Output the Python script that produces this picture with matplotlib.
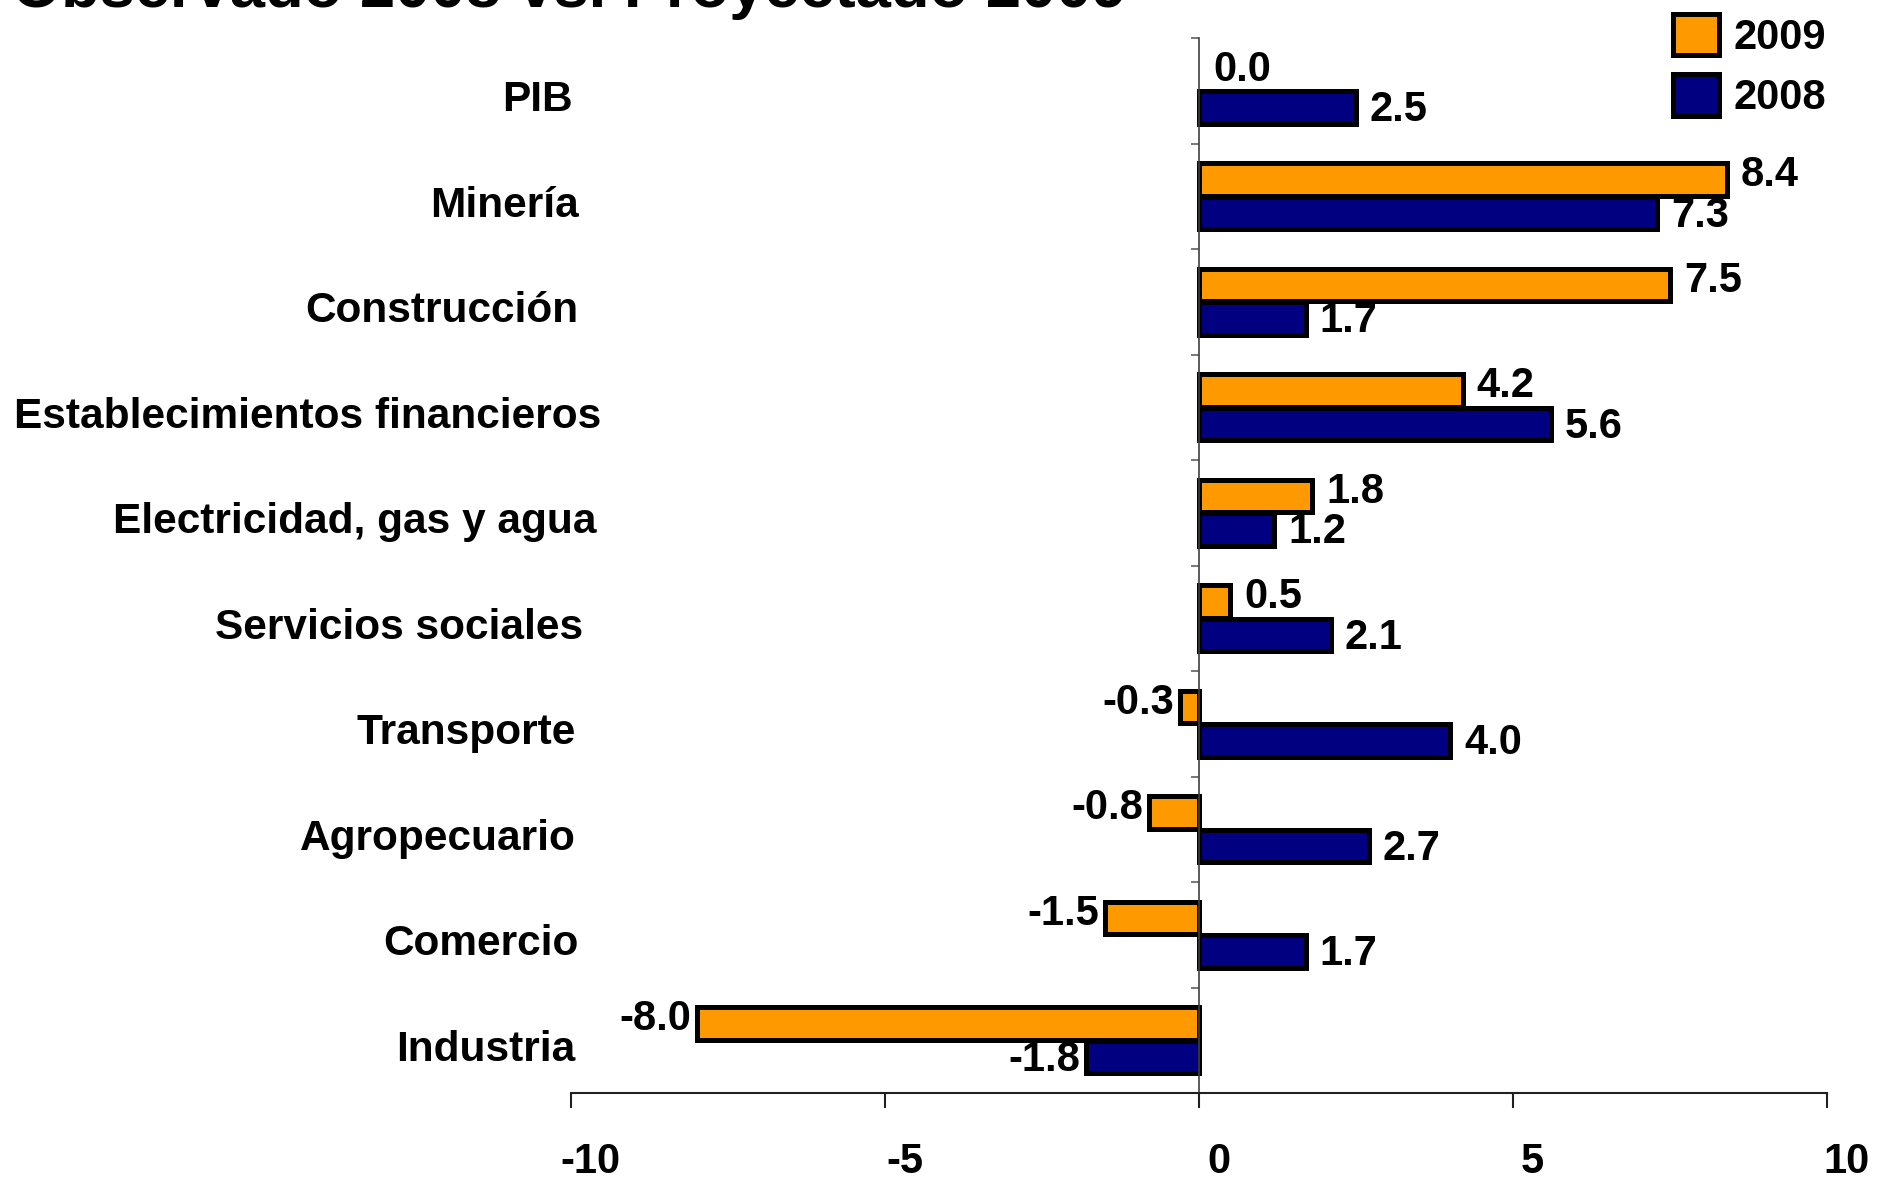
import numpy as np
import matplotlib.pyplot as plt
from matplotlib.patches import Patch
from matplotlib.transforms import blended_transform_factory, ScaledTranslation

# data (top to bottom)
sectores = ['PIB', 'Minería', 'Construcción', 'Establecimientos financieros',
            'Electricidad, gas y agua', 'Servicios sociales', 'Transporte',
            'Agropecuario', 'Comercio', 'Industria']
proy_2009 = [0.0, 8.4, 7.5, 4.2, 1.8, 0.5, -0.3, -0.8, -1.5, -8.0]
obs_2008 = [2.5, 7.3, 1.7, 5.6, 1.2, 2.1, 4.0, 2.7, 1.7, -1.8]
xticks = [-10, -5, 0, 5, 10]

# small horizontal nudges of the category labels (points), as in the original slide
label_dx = [-4, 0, 0, 16, 13, 3, -2, -2, 0, -2]

plt.rcParams['font.family'] = ['Liberation Sans', 'DejaVu Sans']
plt.rcParams['font.weight'] = 'bold'

naranja = '#FF9900'
azul = '#000080'

fig = plt.figure(figsize=(18.77, 11.80), dpi=100)
ax = fig.add_axes([571 / 1877, 87 / 1180, (1827 - 571) / 1877, (1093 - 38) / 1180])

y = np.arange(len(sectores))
h = 0.31
b1 = ax.barh(y - 0.16, proy_2009, height=h, color=naranja, edgecolor='black', linewidth=3.6)
b2 = ax.barh(y + 0.16, obs_2008, height=h, color=azul, edgecolor='black', linewidth=3.6)

# no outline for empty bars (PIB 2009 = 0.0)
for bars, vals in [(b1, proy_2009), (b2, obs_2008)]:
    for rect, v in zip(bars, vals):
        if v == 0:
            rect.set_linewidth(0)

ax.set_xlim(-10, 10)
ax.set_ylim(len(sectores) - 0.5, -0.5)

# value labels
for bars, vals, dy in [(b1, proy_2009, 3), (b2, obs_2008, -2)]:
    for rect, v in zip(bars, vals):
        yc = rect.get_y() + rect.get_height() / 2
        if v >= 0:
            ax.annotate(f'{v:.1f}', (v, yc), xytext=(10, dy), textcoords='offset points',
                        ha='left', va='center', fontsize=30, fontweight='bold')
        else:
            ax.annotate(f'{v:.1f}', (v, yc), xytext=(-4, dy), textcoords='offset points',
                        ha='right', va='center', fontsize=30, fontweight='bold')

# category labels on the left
trans = blended_transform_factory(ax.transAxes, ax.transData)
for i, s in enumerate(sectores):
    t = trans + ScaledTranslation(label_dx[i] / 72, -7 / 72, fig.dpi_scale_trans)
    ax.text(0.006, i, s, transform=t, ha='right', va='center', fontsize=30.5, fontweight='bold')

# axes styling
ax.spines['top'].set_visible(False)
ax.spines['right'].set_visible(False)
ax.spines['left'].set_position(('data', 0))
ax.spines['left'].set_color('#404040')
ax.spines['left'].set_linewidth(1.2)
ax.spines['bottom'].set_color('#202020')
ax.spines['bottom'].set_linewidth(1.5)

ax.set_yticks(np.arange(-0.5, len(sectores), 1.0))
ax.set_yticklabels([])
ax.tick_params(axis='y', direction='out', length=6, width=1.2, color='#606060')

ax.set_xticks(xticks)
ax.set_xticklabels([str(t) for t in xticks])
ax.tick_params(axis='x', direction='out', length=11, width=1.5, color='#202020', pad=24, labelsize=30)
shift = ScaledTranslation(14 / 72, 0, fig.dpi_scale_trans)
for lbl in ax.get_xticklabels():
    lbl.set_fontweight('bold')
    lbl.set_transform(lbl.get_transform() + shift)

handles = [Patch(facecolor=naranja, edgecolor='black', linewidth=3.6, label='2009'),
           Patch(facecolor=azul, edgecolor='black', linewidth=3.6, label='2008')]
ax.legend(handles=handles, loc='upper left', bbox_to_anchor=(1673 / 1877, 1 - 14 / 1180),
          bbox_transform=fig.transFigure, frameon=False, fontsize=30, borderpad=0,
          handlelength=1.1, handleheight=1.15, handletextpad=0.35, labelspacing=0.4,
          borderaxespad=0)

fig.text(12 / 1877, 1 - 7 / 1180, 'Observado 2008 vs. Proyectado 2009', ha='left', va='baseline',
         fontsize=45.5, fontweight='bold')

fig.savefig('out.png', dpi=100)
